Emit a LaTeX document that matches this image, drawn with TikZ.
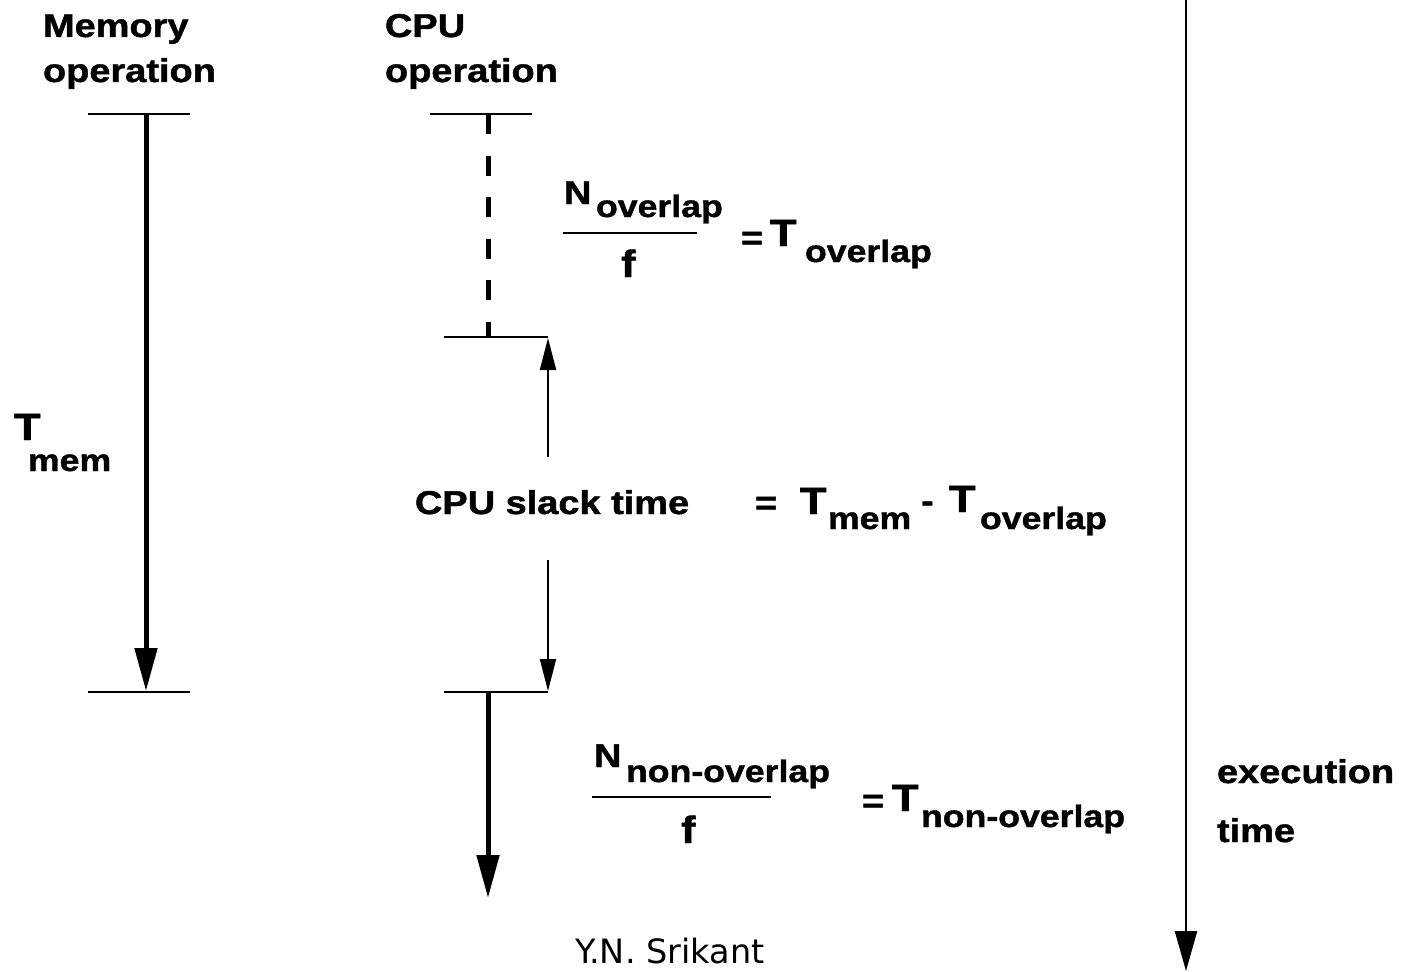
\documentclass[tikz,border=0pt]{standalone}
\usepackage{fontspec}
\setmainfont{Liberation Sans}[BoldFeatures={FakeBold=1.2}]
\newfontfamily\sigfont{DejaVu Sans}
\usetikzlibrary{arrows.meta}
\newcommand{\wb}[1]{\scalebox{1.15}[1]{#1}}
\tikzset{
  lbl/.style={anchor=base west, inner sep=0pt, outer sep=0pt, font=\fontsize{33}{40}\selectfont\bfseries},
  sublbl/.style={lbl, font=\fontsize{31}{36}\selectfont\bfseries},
  biglbl/.style={lbl, font=\fontsize{38}{44}\selectfont\bfseries},
  tick/.style={line width=2pt},
  fracbar/.style={line width=1.6pt},
  heavy/.style={line width=5pt, -{Triangle[width=22pt,length=43pt]}},
  dashline/.style={line width=5pt, dash pattern=on 20pt off 21.5pt},
  light/.style={line width=2pt, -{Triangle[width=16pt,length=32pt]}},
  axis/.style={line width=2.5pt, -{Triangle[width=22pt,length=40pt]}}
}
\begin{document}
\begin{tikzpicture}[x=1pt,y=-1pt]
\useasboundingbox (0,0) rectangle (1404,971);
% headings
\node[lbl] (mem1) at (43,37) {\wb{Memory}};
\node[lbl] (mem2) at (43,82) {\wb{operation}};
\node[lbl] (cpu1) at (385,37) {\wb{CPU}};
\node[lbl] (cpu2) at (385,82) {\wb{operation}};
% tick marks
\coordinate (t1a) at (88,114);  \coordinate (t1b) at (190,114);
\coordinate (t2a) at (430,114); \coordinate (t2b) at (532,114);
\coordinate (t3a) at (444,337); \coordinate (t3b) at (548,337);
\coordinate (t4a) at (88,692);  \coordinate (t4b) at (190,692);
\coordinate (t5a) at (444,692); \coordinate (t5b) at (548,692);
\draw[tick] (t1a) -- (t1b);
\draw[tick] (t2a) -- (t2b);
\draw[tick] (t3a) -- (t3b);
\draw[tick] (t4a) -- (t4b);
\draw[tick] (t5a) -- (t5b);
% memory arrow
\coordinate (ms) at (146,114); \coordinate (me) at (146,691);
\draw[heavy] (ms) -- (me);
% cpu dashed
\coordinate (cs) at (488,114); \coordinate (ce) at (488,337);
\draw[dashline] (cs) -- (ce);
% slack arrows
\coordinate (su0) at (548,457); \coordinate (su1) at (548,338);
\coordinate (sd0) at (548,560); \coordinate (sd1) at (548,691);
\draw[light] (su0) -- (su1);
\draw[light] (sd0) -- (sd1);
% cpu non-overlap arrow
\coordinate (ns) at (488,692); \coordinate (ne) at (488,898);
\draw[heavy] (ns) -- (ne);
% time axis
\coordinate (ax0) at (1186,0); \coordinate (ax1) at (1186,971);
\draw[axis] (ax0) -- (ax1);
% N_overlap / f = T_overlap
\node[lbl] (n1) at (564,204) {\wb{N}};
\node[sublbl] (n1s) at (596,217) {\wb{overlap}};
\coordinate (f1a) at (563,233); \coordinate (f1b) at (697,233);
\draw[fracbar] (f1a) -- (f1b);
\node[biglbl] (f1) at (621,277) {\wb{f}};
\node[lbl] (eq1) at (741,249) {\wb{=}};
\node[biglbl] (t1) at (770,246) {\wb{T}};
\node[sublbl] (t1s) at (805,262) {\wb{overlap}};
% T_mem
\node[biglbl] (tm) at (14,440) {\wb{T}};
\node[sublbl] (tms) at (28,471) {\wb{mem}};
% slack
\node[lbl] (slack) at (415,514) {\wb{CPU slack time}};
\node[lbl] (eq2) at (755,514) {\wb{=}};
\node[biglbl] (t2) at (800,514) {\wb{T}};
\node[sublbl] (t2s) at (828,529) {\wb{mem}};
\node[lbl] (minus) at (921,512) {\wb{-}};
\node[biglbl] (t3) at (949,512) {\wb{T}};
\node[sublbl] (t3s) at (980,529) {\wb{overlap}};
% N_non-overlap / f = T_non-overlap
\node[lbl] (n2) at (594,767) {\wb{N}};
\node[sublbl] (n2s) at (626,782) {\wb{non-overlap}};
\coordinate (f2a) at (592,797); \coordinate (f2b) at (771,797);
\draw[fracbar] (f2a) -- (f2b);
\node[biglbl] (f2) at (681,843) {\wb{f}};
\node[lbl] (eq3) at (862,812) {\wb{=}};
\node[biglbl] (t4) at (892,811) {\wb{T}};
\node[sublbl] (t4s) at (921,827) {\wb{non-overlap}};
% execution time
\node[lbl] (ex1) at (1217,783) {\wb{execution}};
\node[lbl] (ex2) at (1217,842) {\wb{time}};
% signature
\node[anchor=base, inner sep=0pt, text depth=0pt, font=\sigfont\fontsize{33.5}{38}\selectfont] (sig) at (670,963) {Y.N. Srikant};
\end{tikzpicture}
\end{document}
